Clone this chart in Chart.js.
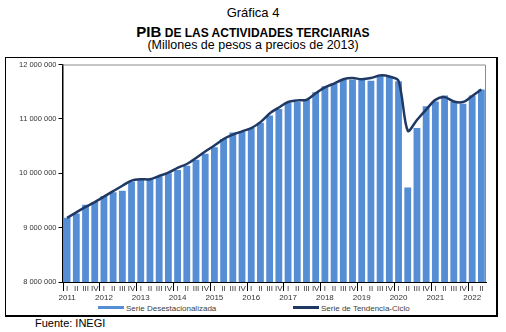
<!DOCTYPE html>
<html lang="es">
<head>
<meta charset="utf-8">
<script src="https://cdn.jsdelivr.net/npm/chart.js@4"></script>
<style>
  body { margin: 0; background: #fff; font-family: "Liberation Sans", Arial, sans-serif; color: #000; }
  #page { position: relative; width: 506px; height: 332px; overflow: hidden; }
  .t { position: absolute; left: 0; width: 506px; text-align: center; white-space: nowrap; }
  #box { position: absolute; left: 5px; top: 57px; width: 490px; height: 257px; border: 1px solid #000; border-right-width: 2px; border-bottom-width: 2px; }
  #wrap { position: absolute; left: 0; top: 0; width: 490px; height: 246px; }
  .leg { position: absolute; top: 246px; font-size: 8px; color: #404040; line-height: 10px; white-space: nowrap; }
  .sw { display: inline-block; width: 26px; height: 3px; vertical-align: middle; margin-right: 2px; position: relative; top: -1px; }
</style>
</head>
<body>
<div id="page">
  <div class="t" style="top:5px;font-size:13px;line-height:16px;">Gráfica 4</div>
  <div class="t" style="top:23px;font-weight:bold;font-size:12px;line-height:17px;"><span style="font-size:15px;">PIB</span> DE LAS ACTIVIDADES TERCIARIAS</div>
  <div class="t" style="top:38px;font-size:12.5px;line-height:15px;">(Millones de pesos a precios de 2013)</div>
  <div id="box">
    <div id="wrap"><canvas id="pibChart"></canvas></div>
    <div class="leg" style="left:92px;"><span class="sw" style="background:#558ed5;"></span>Serie Desestacionalizada</div>
    <div class="leg" style="left:287px;"><span class="sw" style="background:#1f3864;"></span>Serie de Tendencia-Ciclo</div>
  </div>
  <div style="position:absolute;left:35px;top:316px;font-size:11px;line-height:14px;">Fuente: INEGI</div>
</div>
<script>
// Datos trimestrales 2011-I a 2022-II
const years = ['2011', '2012', '2013', '2014', '2015', '2016', '2017', '2018', '2019', '2020', '2021', '2022'];
const quarters = ['I', 'II', 'III', 'IV'];
const quarterCount = 46;

// Serie desestacionalizada (barras)
const desestacionalizada = [
  9180000, 9260000, 9420000, 9470000, 9580000, 9650000, 9680000, 9850000,
  9880000, 9880000, 9940000, 10000000, 10060000, 10140000, 10250000, 10360000,
  10480000, 10630000, 10750000, 10770000, 10830000, 10930000, 11060000, 11180000,
  11290000, 11310000, 11350000, 11490000, 11600000, 11650000, 11720000, 11720000,
  11720000, 11700000, 11810000, 11770000, 11690000, 9740000, 10830000, 11230000,
  11320000, 11430000, 11310000, 11280000, 11430000, 11540000
];

// Serie de tendencia-ciclo (línea)
const tendenciaCiclo = [
  9180000, 9280000, 9380000, 9470000, 9570000, 9670000, 9770000, 9865000,
  9890000, 9890000, 9950000, 10010000, 10100000, 10170000, 10280000, 10400000,
  10510000, 10630000, 10710000, 10770000, 10830000, 10940000, 11100000, 11210000,
  11310000, 11340000, 11350000, 11470000, 11580000, 11650000, 11730000, 11750000,
  11730000, 11750000, 11800000, 11780000, 11700000, 10780000, 10980000, 11170000,
  11350000, 11400000, 11320000, 11310000, 11420000, 11540000
];

const yTicks = [8000000, 9000000, 10000000, 11000000, 12000000];

const quarterLabels = [];
for (let i = 0; i < quarterCount; i++) {
  quarterLabels.push(quarters[i % 4]);
}

function fmtMiles(v) {
  return String(v).replace(/\B(?=(\d{3})+(?!\d))/g, ' ');
}

// Borde gris del área; trimestres, marcas de año y años en el eje X
const chartExtras = {
  id: 'chartExtras',
  beforeDatasetsDraw(chart) {
    const a = chart.chartArea;
    const c = chart.ctx;
    c.save();
    c.strokeStyle = '#8c8c8c';
    c.lineWidth = 1;
    c.beginPath();
    c.moveTo(a.left, a.top + 0.5);
    c.lineTo(a.right - 0.5, a.top + 0.5);
    c.lineTo(a.right - 0.5, a.bottom);
    c.stroke();
    c.restore();
  },
  afterDraw(chart) {
    const x = chart.scales.x;
    const c = chart.ctx;
    const half = (x.getPixelForValue(1) - x.getPixelForValue(0)) / 2;
    c.save();
    c.strokeStyle = '#000';
    c.lineWidth = 1;
    c.fillStyle = '#333';
    c.font = '8px "Liberation Sans"';
    c.textAlign = 'center';
    c.textBaseline = 'middle';
    for (let i = 0; i < quarterCount; i++) {
      const px = x.getPixelForValue(i);
      c.fillText(quarterLabels[i], px, x.top + 6.5);
      if (i % 4 === 0) {
        const edge = Math.round(px - half) + 0.5;
        c.beginPath();
        c.moveTo(edge, x.top);
        c.lineTo(edge, x.top + 9);
        c.stroke();
        c.fillText(years[i / 4], px, x.top + 15.5);
      }
    }
    c.restore();
  }
};

const ctx = document.getElementById('pibChart');
new Chart(ctx.getContext('2d'), {
  data: {
    labels: quarterLabels,
    datasets: [{
      type: 'line',
      label: 'Serie de Tendencia-Ciclo',
      data: tendenciaCiclo,
      borderColor: '#1f3864',
      borderWidth: 2.5,
      pointRadius: 0,
      tension: 0.3,
      order: 0
    }, {
      type: 'bar',
      label: 'Serie Desestacionalizada',
      data: desestacionalizada,
      backgroundColor: '#558ed5',
      barPercentage: 0.74,
      categoryPercentage: 1,
      order: 1
    }]
  },
  options: {
    responsive: true,
    maintainAspectRatio: false,
    animation: false,
    layout: { padding: { top: 6, right: 10, left: 0, bottom: 0 } },
    plugins: {
      legend: { display: false },
      tooltip: { enabled: false }
    },
    scales: {
      x: {
        offset: true,
        afterFit(scale) { scale.height = 22; },
        border: { color: '#000', width: 1 },
        grid: { display: false, drawTicks: false },
        ticks: { display: false }
      },
      y: {
        min: 8000000,
        max: 12000000,
        afterFit(scale) { scale.width = 56.5; },
        afterBuildTicks(scale) { scale.ticks = yTicks.map(v => ({ value: v })); },
        border: { color: '#000', width: 1.5 },
        grid: { drawOnChartArea: false, tickLength: 4, color: '#000' },
        ticks: {
          padding: 2,
          color: '#333',
          font: { family: 'Liberation Sans', size: 7.5 },
          callback: (v) => fmtMiles(v)
        }
      }
    }
  },
  plugins: [chartExtras]
});
</script>
</body>
</html>
